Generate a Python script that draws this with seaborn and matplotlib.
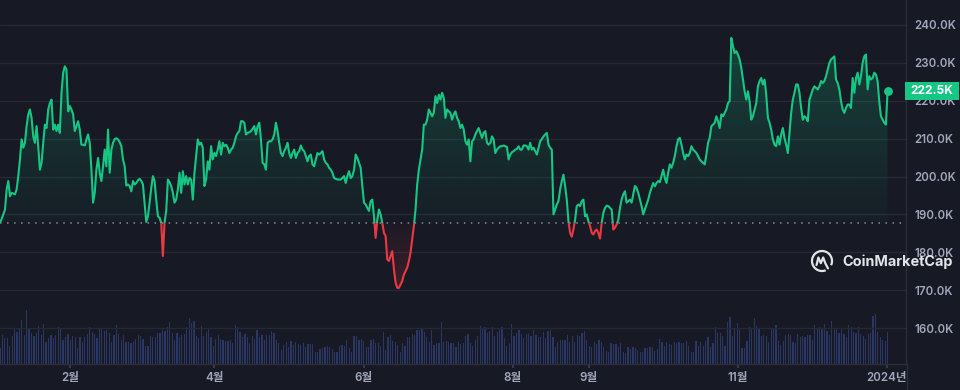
import numpy as np
import pandas as pd
import matplotlib
matplotlib.use("Agg")
import matplotlib.pyplot as plt
import matplotlib.dates as mdates
import matplotlib.transforms as mtransforms
from matplotlib.patches import Rectangle, Arc
from matplotlib.path import Path
from matplotlib.lines import Line2D
from matplotlib.colors import to_rgb
import seaborn as sns

# ---------------- data ----------------
period_start = "2023-01-03 09:06"
period_end = "2024-01-01 05:45"

price_jan_may = [
    187.8, 188.8, 190.0, 191.3, 196.6, 198.8, 194.8, 195.7, 195.5, 195.3,
    196.6, 200.1, 204.5, 209.8, 207.6, 208.9, 213.3, 216.4, 217.7, 215.5,
    210.6, 208.9, 213.3, 208.0, 201.8, 203.6, 208.9, 213.7, 212.8, 217.7,
    219.4, 220.3, 212.4, 213.7, 212.0, 213.7, 211.5, 222.1, 227.4, 229.1,
    228.2, 217.2, 218.6, 217.7, 216.4, 212.0, 213.3, 214.6, 212.4, 208.4,
    208.4, 208.2, 209.8, 211.1, 208.9, 201.8, 193.1, 195.7, 201.8, 204.9,
    201.0, 198.8, 202.7, 207.1, 202.7, 212.4, 201.0, 207.1, 208.9, 209.9,
    210.1, 209.8, 209.1, 208.0, 204.5, 202.7, 197.6, 197.9, 197.5, 196.1,
    198.8, 197.9, 198.3, 199.0, 199.4, 198.8, 197.9, 193.1, 188.0, 189.5,
    193.1, 197.0, 200.1, 198.8, 193.9, 189.5, 189.1, 187.8, 179.0, 187.8,
    190.9, 199.2, 198.5, 197.5, 195.7, 193.1, 193.9, 196.6, 201.0, 195.7,
    201.4, 197.9, 200.1, 197.9, 199.6, 199.2, 193.9, 201.0, 205.4, 209.8,
    208.4, 208.9, 207.6, 197.5, 199.2, 204.0, 201.8, 208.0, 204.5, 206.2,
    205.4, 207.1, 209.3, 205.8, 208.9, 208.0, 208.4, 207.6, 206.2, 207.1,
    207.6, 208.9, 210.6, 211.5, 212.0, 214.6, 214.6, 214.2, 211.1, 211.5,
    211.7, 212.0, 212.6, 213.3, 211.1, 213.3, 214.2, 209.8, 203.6, 203.2,
    201.8, 208.9, 209.3, 209.3, 209.8, 211.1, 214.2, 212.0, 208.9, 206.2,
    205.4, 206.7, 207.6, 208.9, 206.2, 204.9, 206.2, 207.1, 204.9, 206.2,
    206.7, 208.2, 207.1, 206.7, 205.4, 204.0, 205.4, 205.8, 203.2, 202.7,
    204.5, 206.2, 205.8,
]
price_may_sep = [
    206.2, 206.7, 204.5, 203.6, 203.2, 202.3, 201.8, 201.0, 199.6, 199.4,
    199.2, 199.2, 199.2, 199.6, 200.1, 198.3, 200.1, 201.4, 199.6, 200.1,
    201.8, 205.8, 204.9, 203.6, 202.3, 197.5, 193.1, 192.6, 191.7, 190.9,
    193.5, 193.9, 189.5, 183.8, 188.6, 191.3, 190.0, 187.8, 185.1, 184.3,
    178.1, 177.7, 179.0, 180.3, 175.5, 172.0, 170.6, 170.6, 171.5, 172.4,
    174.1, 175.0, 175.9, 177.7, 179.9, 183.4, 186.9, 191.3, 197.9, 201.8,
    204.5, 207.1, 213.7, 213.7, 215.0, 217.7, 216.8, 215.9, 216.8, 221.2,
    219.4, 221.6, 220.3, 222.1, 220.8, 215.5, 217.7, 217.2, 216.8, 215.0,
    216.4, 217.2, 215.5, 214.6, 212.8, 213.7, 212.4, 209.3, 208.4, 209.8,
    204.0, 209.3, 209.8, 211.1, 212.0, 212.8, 211.5, 210.2, 211.5, 212.0,
    208.9, 208.4, 208.9, 210.6, 209.8, 206.2, 207.1, 207.6, 208.0, 208.0,
    208.2, 208.0, 207.8, 204.5, 205.8, 206.4, 206.7, 207.1, 207.3, 208.0,
    207.1, 207.1, 208.2, 208.2, 208.0, 207.1, 208.9, 207.1, 207.6, 206.7,
    205.8, 207.6, 209.3, 209.9, 210.6, 211.1, 211.5, 208.4, 207.6, 207.1,
    190.0, 191.3, 192.6, 193.5, 196.6, 198.8, 200.5, 197.5, 193.9, 188.2,
    185.1, 184.1, 186.0, 188.6, 192.2, 192.6, 192.2, 193.5, 193.9, 189.5,
    190.0, 188.2, 186.9, 185.1, 184.7, 185.6, 186.0, 185.1, 183.6, 187.8,
    190.4, 191.7, 192.3, 192.2, 191.7, 191.3, 186.0, 186.5, 187.3, 188.6,
    191.7, 193.9, 195.3, 196.1, 193.1, 193.5, 193.9, 193.1, 195.3, 197.5,
    197.0, 195.7,
]
price_sep_dec = [
    193.9, 192.2, 190.0, 191.3, 192.6, 193.9, 195.7, 197.0, 198.3, 197.4,
    198.3, 198.8, 198.5, 200.1, 201.8, 199.6, 198.3, 201.0, 203.2, 202.3,
    203.6, 205.4, 208.0, 209.8, 210.2, 208.4, 206.2, 204.5, 205.8, 205.4,
    206.2, 208.0, 207.1, 206.7, 206.2, 205.4, 204.5, 204.0, 203.6, 203.2,
    205.8, 208.9, 210.2, 213.3, 213.7, 214.2, 215.9, 214.6, 212.8, 216.4,
    215.9, 216.8, 217.7, 219.4, 219.9, 236.6, 234.4, 232.6, 233.1, 232.2,
    230.9, 228.7, 225.6, 222.5, 220.3, 222.5, 219.9, 215.0, 215.9, 217.7,
    219.4, 223.8, 225.2, 226.0, 224.3, 225.6, 221.6, 215.5, 214.2, 212.4,
    209.8, 208.4, 208.0, 210.6, 208.4, 211.1, 212.8, 210.2, 208.4, 206.2,
    211.5, 216.8, 220.3, 222.1, 224.3, 224.3, 222.1, 218.1, 215.0, 215.9,
    215.5, 214.6, 220.3, 221.6, 223.0, 223.8, 223.4, 223.0, 223.8, 225.2,
    224.7, 225.2, 226.5, 228.2, 230.0, 230.9, 231.3, 231.7, 225.6, 224.7,
    223.0, 219.9, 217.7, 216.8, 218.1, 219.0, 219.0, 218.1, 226.0, 222.1,
    226.0, 227.4, 224.3, 226.5, 230.0, 231.7, 232.2, 223.0, 226.5, 225.6,
    226.0, 227.4, 226.9, 225.2, 219.9, 215.9, 215.0, 214.2, 213.7, 222.5,
]

# daily volume (relative units)
volume_q1 = [
    49, 87, 77, 79, 54, 84, 104, 97, 107, 132,
    87, 162, 107, 94, 84, 94, 114, 87, 120, 67,
    79, 87, 79, 87, 110, 107, 72, 82, 90, 72,
    84, 82, 49, 80, 67, 82, 90, 110, 97, 90,
    77, 107, 107, 100, 102, 94, 67, 87, 117, 90,
    72, 87, 67, 65, 64, 67, 74, 87, 84, 74,
    54, 54, 84, 82, 82, 94, 94, 102, 100, 112,
    127, 94, 72, 92,
]
volume_q2 = [
    82, 87, 90, 112, 137, 124, 130, 84, 77, 114,
    84, 97, 104, 80, 54, 74, 87, 74, 72, 70,
    70, 72, 62, 117, 110, 97, 82, 90, 82, 62,
    84, 74, 102, 80, 87, 72, 87, 87, 100, 94,
    72, 64, 42, 57, 67, 50, 70, 57, 67, 60,
    57, 64, 52, 60, 60, 59, 37, 37, 44, 47,
    50, 54, 50, 44, 37, 37, 54, 57, 54, 72,
    47, 37, 84, 84,
]
volume_q3 = [
    72, 74, 70, 52, 52, 72, 74, 62, 62, 54,
    97, 42, 80, 87, 70, 67, 57, 37, 64, 54,
    80, 80, 90, 87, 102, 102, 107, 97, 80, 67,
    102, 57, 62, 64, 126, 67, 70, 67, 62, 64,
    52, 67, 60, 64, 84, 90, 62, 54, 72, 84,
    114, 107, 112, 94, 100, 112, 84, 97, 107, 112,
    77, 54, 64, 120, 84, 92, 102, 90, 77, 90,
    90, 84, 102, 87,
]
volume_q4 = [
    82, 82, 97, 77, 100, 102, 82, 52, 67, 72,
    72, 72, 87, 67, 84, 67, 87, 84, 94, 100,
    72, 54, 52, 67, 60, 72, 67, 52, 40, 37,
    64, 60, 60, 50, 62, 37, 34, 50, 44, 52,
    47, 42, 37, 37, 47, 47, 52, 50, 40, 44,
    74, 67, 54, 67, 60, 57, 67, 64, 67, 62,
    64, 70, 54, 37, 37, 70, 54, 67, 54, 70,
    82, 50, 64, 110,
]
volume_q5 = [
    92, 92, 84, 54, 127, 142, 84, 107, 124, 102,
    47, 47, 70, 110, 107, 137, 114, 107, 84, 87,
    84, 67, 107, 104, 117, 70, 57, 70, 87, 90,
    87, 67, 62, 90, 80, 84, 80, 87, 87, 72,
    117, 107, 110, 107, 120, 100, 87, 130, 107, 107,
    92, 107, 90, 80, 117, 112, 97, 94, 110, 90,
    84, 74, 90, 94, 144, 150, 97, 80, 72, 68,
    97,
]

tick_dates = ["2023-02-01", "2023-04-01", "2023-06-01", "2023-08-01",
              "2023-09-01", "2023-11-01", "2024-01-01"]
tick_labels = ["2월", "4월", "6월", "8월", "9월", "11월", "2024년"]
price_ticks = [160, 170, 180, 190, 200, 210, 220, 230, 240]

# ---------------- style ----------------
BG = "#171924"
GREEN = "#16c784"
RED = "#ea3943"
GRID = "#252935"
LABEL = "#a1a7bb"
VOLC = "#2a3664"

sns.set_theme(style="dark")
plt.rcParams["font.family"] = ["Inter", "Noto Sans CJK KR", "DejaVu Sans"]

price = np.array(price_jan_may + price_may_sep + price_sep_dec)
volume = np.array(volume_q1 + volume_q2 + volume_q3 + volume_q4 + volume_q5)
t_price = pd.date_range(period_start, period_end, periods=len(price))
t_vol = pd.date_range(period_start, period_end, periods=len(volume))
df = pd.DataFrame({"t": t_price, "price": price})
base = price[0]

fig = plt.figure(figsize=(9.6, 3.9), dpi=100, facecolor=BG)
rect = [0, 26 / 390, 906 / 960, 364 / 390]
axv = fig.add_axes(rect)
ax = fig.add_axes(rect, sharex=axv)

# volume
axv.set_facecolor(BG)
axv.bar(t_vol, volume, width=0.5, color=VOLC, linewidth=0)
axv.set_ylim(0, 1092)
axv.set_yticks([])
axv.tick_params(axis="x", length=0, labelbottom=False)
for s in axv.spines.values():
    s.set_visible(False)
axv.grid(False)

# price
ax.set_facecolor("none")
xn = mdates.date2num(t_price)
x0 = mdates.date2num(pd.Timestamp(period_start))
x1 = x0 + 906 / 2.446

sns.lineplot(data=df, x="t", y="price", ax=ax, color=GREEN, lw=1.5,
             estimator=None, zorder=4)
gline = ax.lines[-1]
sns.lineplot(data=df, x="t", y="price", ax=ax, color=RED, lw=1.5,
             estimator=None, zorder=4)
rline = ax.lines[-1]
gline.set_clip_path(Rectangle((x0 - 10, base), 500, 200, transform=ax.transData))
rline.set_clip_path(Rectangle((x0 - 10, base - 200), 500, 200, transform=ax.transData))

# gradient fills
fb_up = ax.fill_between(xn, price, base, where=price >= base, interpolate=True,
                        facecolor="none", edgecolor="none")
fb_dn = ax.fill_between(xn, price, base, where=price <= base, interpolate=True,
                        facecolor="none", edgecolor="none")
img_up = np.zeros((256, 1, 4))
img_up[..., :3] = to_rgb(GREEN)
img_up[:, 0, 3] = np.linspace(0.03, 0.24, 256)
im_up = ax.imshow(img_up, extent=[xn[0], xn[-1], base, price.max()], origin="lower",
                  aspect="auto", zorder=1, interpolation="bilinear")
im_up.set_clip_path(Path.make_compound_path(*fb_up.get_paths()), transform=ax.transData)
img_dn = np.zeros((256, 1, 4))
img_dn[..., :3] = to_rgb(RED)
img_dn[:, 0, 3] = np.linspace(0.18, 0.03, 256)
im_dn = ax.imshow(img_dn, extent=[xn[0], xn[-1], price.min(), base], origin="lower",
                  aspect="auto", zorder=1, interpolation="bilinear")
im_dn.set_clip_path(Path.make_compound_path(*fb_dn.get_paths()), transform=ax.transData)

ax.axhline(base, color="#868b9c", lw=1.1, ls=(0, (1, 3.6)), zorder=2)
ax.scatter([xn[-1]], [price[-1]], s=40, color=GREEN, zorder=6, linewidths=0)

ax.set_xlim(x0, x1)
ax.set_ylim(150.5, 246.6)
ax.set_xlabel("")
ax.set_ylabel("")

ax.set_yticks(price_ticks)
ax.set_yticklabels([f"{v:.1f}K" for v in price_ticks])
ax.yaxis.tick_right()
ax.tick_params(axis="y", length=0, pad=6, labelcolor=LABEL, labelsize=8.3)
ax.set_xticks(mdates.date2num(pd.to_datetime(tick_dates)))
ax.set_xticklabels(tick_labels)
ax.tick_params(axis="x", length=3, color="#3b3f50", pad=3, labelcolor=LABEL,
               labelsize=8.3, bottom=True)
for lab in ax.get_xticklabels() + ax.get_yticklabels():
    lab.set_fontweight("semibold")
ax.grid(axis="y", color=GRID, lw=1)
ax.grid(axis="x", visible=False)
for side in ["top", "left"]:
    ax.spines[side].set_visible(False)
for side in ["right", "bottom"]:
    ax.spines[side].set_color("#2a2e3b")
    ax.spines[side].set_linewidth(1)

# current price tag
blend = mtransforms.blended_transform_factory(ax.transAxes, ax.transData)
ax.add_patch(Rectangle((905 / 906, price[-1] - 2.4), 54 / 906, 4.75,
                       transform=blend, facecolor=GREEN, edgecolor="none",
                       clip_on=False, zorder=7))
ax.text((905 + 959) / 2 / 906, price[-1], f"{price[-1]:.1f}K", transform=blend,
        ha="center", va="center", color="white", fontsize=8.6,
        fontweight="bold", zorder=8, clip_on=False)

# right pane separator / clip of last x label
fig.add_artist(Rectangle((906.5 / 960, 0), 54 / 960, 24 / 390, transform=fig.transFigure,
                         facecolor=BG, edgecolor="none", zorder=10))
fig.add_artist(Line2D([906.5 / 960, 906.5 / 960], [0, 26 / 390], transform=fig.transFigure,
                      color="#2a2e3b", lw=1, zorder=11))

# watermark
WM = "#e2e4ea"
cx, cy = 8.22, 3.9 - 2.61
fig.add_artist(Arc((cx, cy), 0.2, 0.2, theta1=-25, theta2=292,
                   transform=fig.dpi_scale_trans, color=WM, lw=1.6, zorder=12))
wave = np.array([[-5.5, -4], [-3.6, 3.5], [-1.2, -2.2], [1.2, 3.5], [3.4, -2.5], [6.0, -7.4]]) / 100
fig.add_artist(Line2D(cx + wave[:, 0], cy + wave[:, 1], transform=fig.dpi_scale_trans,
                      color=WM, lw=1.6, solid_joinstyle="round", zorder=12))
fig.text(842 / 960, 1 - 262 / 390, "CoinMarketCap", ha="left", va="center",
         fontsize=10.4, fontweight="bold", color=WM, zorder=12)

fig.savefig("out.png", dpi=100, facecolor=BG)
